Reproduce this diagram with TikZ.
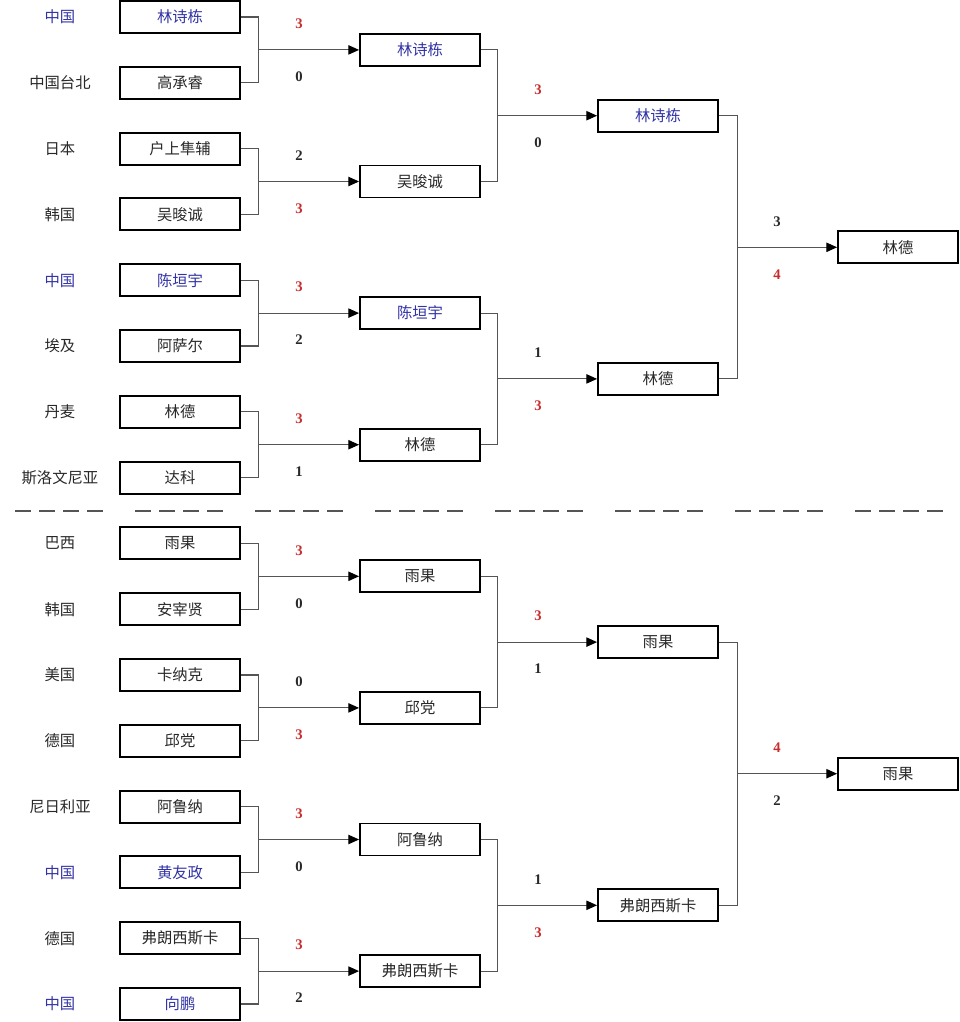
\documentclass[tikz,border=0pt]{standalone}
\usepackage{fontspec}
\setmainfont{Noto Sans CJK SC}
\newfontfamily\scorefont{Liberation Serif}
\usetikzlibrary{arrows.meta}
\definecolor{cnblue}{RGB}{50,50,165}
\definecolor{winred}{RGB}{200,45,45}
\definecolor{txt}{RGB}{40,40,40}
\definecolor{linegray}{RGB}{85,85,85}
\begin{document}
\begin{tikzpicture}[x=0.75pt,y=-0.75pt,>={Triangle[length=8pt,width=7pt,color=black]},
 box/.style={draw=black,line width=1.4pt,minimum width=90pt,minimum height=24pt,inner sep=0pt,font=\fontsize{11.5}{13}\selectfont},
 country/.style={font=\fontsize{11.5}{13}\selectfont},
 link/.style={draw=linegray,line width=0.8pt},
 score/.style={font=\scorefont\bfseries\fontsize{11}{12}\selectfont}]
 \useasboundingbox (0,0) rectangle (960,1022);
 % first round: countries and players
 \foreach \i/\nat/\name/\col in {1/中国/林诗栋/cnblue,2/中国台北/高承睿/txt,3/日本/户上隼辅/txt,4/韩国/吴晙诚/txt,
   5/中国/陈垣宇/cnblue,6/埃及/阿萨尔/txt,7/丹麦/林德/txt,8/斯洛文尼亚/达科/txt,
   9/巴西/雨果/txt,10/韩国/安宰贤/txt,11/美国/卡纳克/txt,12/德国/邱党/txt,
   13/尼日利亚/阿鲁纳/txt,14/中国/黄友政/cnblue,15/德国/弗朗西斯卡/txt,16/中国/向鹏/cnblue}{
  \pgfmathsetmacro\yy{17+65.8*(\i-1)}
  \node[country,text=\col] (n\i) at (60,\yy) {\nat};
  \node[box,text=\col] (p\i) at (180,\yy) {\name};
 }
 % later rounds
 \foreach \k/\y/\name/\col in {1/49.9/林诗栋/cnblue,2/181.5/吴晙诚/txt,3/313.1/陈垣宇/cnblue,4/444.7/林德/txt,
   5/576.3/雨果/txt,6/707.9/邱党/txt,7/839.5/阿鲁纳/txt,8/971.1/弗朗西斯卡/txt}
  \node[box,text=\col] (q\k) at (420,\y) {\name};
 \foreach \k/\y/\name/\col in {1/115.7/林诗栋/cnblue,2/378.9/林德/txt,3/642.1/雨果/txt,4/905.3/弗朗西斯卡/txt}
  \node[box,text=\col] (s\k) at (658,\y) {\name};
 \node[box,text=txt] (t1) at (898,247.3) {林德};
 \node[box,text=txt] (t2) at (898,773.7) {雨果};
 % connectors and scores
 \foreach \k/\up/\dn/\uc/\dc in {1/3/0/winred/txt,2/2/3/txt/winred,3/3/2/winred/txt,4/3/1/winred/txt,
   5/3/0/winred/txt,6/0/3/txt/winred,7/3/0/winred/txt,8/3/2/winred/txt}{
  \pgfmathtruncatemacro\a{2*\k-1}
  \pgfmathtruncatemacro\b{2*\k}
  \path (q\k.west) ++(-101,0) coordinate (ja\k);
  \draw[link] (p\a.east) -| (ja\k) |- (p\b.east);
  \draw[link,->] (ja\k) -- (q\k.west);
  \path (ja\k) ++(41,-26) node[score,text=\uc] (ua\k) {\up};
  \path (ja\k) ++(41,27) node[score,text=\dc] (da\k) {\dn};
 }
 \foreach \k/\up/\dn/\uc/\dc in {1/3/0/winred/txt,2/1/3/txt/winred,3/3/1/winred/txt,4/1/3/txt/winred}{
  \pgfmathtruncatemacro\a{2*\k-1}
  \pgfmathtruncatemacro\b{2*\k}
  \path (s\k.west) ++(-100,0) coordinate (jb\k);
  \draw[link] (q\a.east) -| (jb\k) |- (q\b.east);
  \draw[link,->] (jb\k) -- (s\k.west);
  \path (jb\k) ++(41,-26) node[score,text=\uc] (ub\k) {\up};
  \path (jb\k) ++(41,27) node[score,text=\dc] (db\k) {\dn};
 }
 \foreach \k/\up/\dn/\uc/\dc in {1/3/4/txt/winred,2/4/2/winred/txt}{
  \pgfmathtruncatemacro\a{2*\k-1}
  \pgfmathtruncatemacro\b{2*\k}
  \path (t\k.west) ++(-100,0) coordinate (jc\k);
  \draw[link] (s\a.east) -| (jc\k) |- (s\b.east);
  \draw[link,->] (jc\k) -- (t\k.west);
  \path (jc\k) ++(40,-26) node[score,text=\uc] (uc\k) {\up};
  \path (jc\k) ++(40,27) node[score,text=\dc] (dc\k) {\dn};
 }
 % separator between the two halves
 \draw[linegray,line width=1.1pt,dash pattern=on 12pt off 6pt on 12pt off 6pt on 12pt off 6pt on 12pt off 24pt] (15,511) -- (945,511);
\end{tikzpicture}
\end{document}
